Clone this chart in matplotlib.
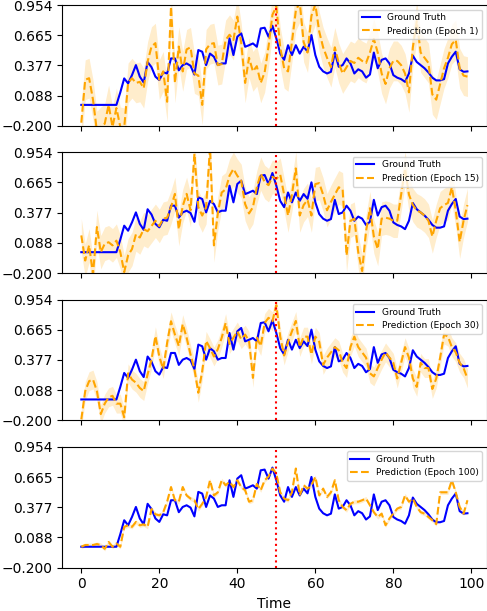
import numpy as np
import matplotlib
matplotlib.use("Agg")
import matplotlib.pyplot as plt

time = list(range(100))

ground_truth = [
    0.0, 0.0, 0.0, 0.0, 0.0, 0.0, 0.0, 0.0, 0.0, 0.0,
    0.12, 0.253, 0.205, 0.285, 0.38, 0.27, 0.214, 0.41, 0.36, 0.27,
    0.237, 0.31, 0.30, 0.444, 0.444, 0.33, 0.38, 0.396, 0.374, 0.29,
    0.524, 0.508, 0.38, 0.49, 0.46, 0.38, 0.396, 0.396, 0.635, 0.476,
    0.651, 0.683, 0.555, 0.57, 0.587, 0.555, 0.73, 0.737, 0.651, 0.756,
    0.635, 0.49, 0.43, 0.57, 0.476, 0.57, 0.49, 0.555, 0.51, 0.667,
    0.476, 0.364, 0.32, 0.30, 0.316, 0.50, 0.364, 0.38, 0.444, 0.396,
    0.30, 0.34, 0.32, 0.26, 0.29, 0.50, 0.35, 0.43, 0.444, 0.396,
    0.284, 0.26, 0.246, 0.22, 0.30, 0.47, 0.41, 0.38, 0.35, 0.31,
    0.26, 0.234, 0.234, 0.246, 0.396, 0.46, 0.508, 0.34, 0.316, 0.32,
]

pred_epoch1 = [
    -0.17, 0.24, 0.255, 0.05, -0.25, -0.21, -0.18, 0.0, -0.21, -0.03,
    -0.21, -0.22, 0.21, 0.255, 0.21, 0.22, 0.16, 0.414, 0.557, 0.59,
    0.24, 0.32, 0.03, 0.94, 0.21, 0.557, 0.32, 0.53, 0.55, 0.30,
    0.28, 0.0, 0.53, 0.58, 0.59, 0.38, 0.39, 0.62, 0.67, 0.62,
    0.843, 0.59, 0.21, 0.45, 0.32, 0.37, 0.21, 0.31, 0.557, 0.86,
    0.94, 0.55, 0.35, 0.32, 0.6, 0.9, 0.98, 0.6, 0.5, 0.85,
    0.96, 0.7, 0.55, 0.45, 0.36, 0.55, 0.4, 0.3, 0.36, 0.42,
    0.4, 0.45, 0.42, 0.4, 0.5, 0.63, 0.5, 0.3, 0.2, 0.35,
    0.42, 0.42, 0.38, 0.3, 0.12, 0.55, 0.8, 0.5, 0.45, 0.4,
    0.1, 0.05, 0.2, 0.35, 0.45, 0.58, 0.62, 0.35, 0.28, 0.27,
]

pred_epoch15 = [
    0.16, -0.08, 0.065, -0.21, 0.24, 0.0, 0.08, 0.095, 0.065, 0.11,
    0.0, -0.19, -0.03, 0.03, 0.17, 0.14, 0.22, 0.2, 0.25, 0.3,
    0.25, 0.32, 0.33, 0.43, 0.557, 0.22, 0.44, 0.557, 0.4, 0.94,
    0.43, 0.35, 0.43, 1.0, 0.065, 0.37, 0.57, 0.6, 0.73, 0.795,
    0.73, 0.68, 0.46, 0.37, 0.43, 0.62, 0.75, 0.67, 0.64, 0.72,
    0.7, 0.74, 0.55, 0.35, 0.55, 0.8, 0.35, 0.45, 0.5, 0.35,
    0.65, 0.66, 0.55, 0.4, 0.48, 0.55, 0.62, 0.6, -0.03, 0.3,
    0.32, 0.0, -0.18, 0.2, 0.42, 0.15, 0.03, 0.32, 0.33, 0.32,
    0.3, 0.3, 0.55, 0.8, 0.55, 0.45, 0.4, 0.38, 0.35, 0.3,
    0.15, 0.3, 0.42, 0.45, 0.47, 0.62, 0.4, 0.1, 0.3, 0.45,
]

pred_epoch30 = [
    -0.19, 0.08, 0.175, 0.19, 0.08, -0.14, -0.04, 0.02, 0.035, -0.04,
    -0.04, -0.17, 0.25, 0.19, 0.16, 0.11, 0.08, 0.24, 0.38, 0.605,
    0.41, 0.29, 0.54, 0.747, 0.62, 0.51, 0.72, 0.59, 0.43, 0.29,
    0.064, 0.27, 0.56, 0.49, 0.41, 0.48, 0.59, 0.73, 0.53, 0.59,
    0.65, 0.575, 0.62, 0.56, 0.206, 0.59, 0.51, 0.73, 0.78, 0.747,
    0.9, 0.6, 0.42, 0.55, 0.65, 0.75, 0.5, 0.6, 0.6, 0.43,
    0.6, 0.55, 0.33, 0.4, 0.45, 0.5, 0.47, 0.35, 0.3, 0.5,
    0.6, 0.5, 0.45, 0.4, 0.25, 0.22, 0.3, 0.38, 0.45, 0.4,
    0.35, 0.2, 0.35, 0.5, 0.4, 0.2, 0.12, 0.35, 0.3, 0.3,
    0.1, 0.2, 0.4, 0.62, 0.6, 0.5, 0.45, 0.35, 0.3, 0.2,
]

pred_epoch100 = [
    0.0, 0.016, 0.016, 0.016, 0.026, 0.016, -0.02, 0.045, 0.0, 0.03,
    0.0, 0.19, 0.205, 0.19, 0.237, 0.205, 0.214, 0.19, 0.36, 0.31,
    0.30, 0.33, 0.43, 0.57, 0.444, 0.43, 0.57, 0.49, 0.46, 0.444,
    0.36, 0.41, 0.476, 0.635, 0.49, 0.52, 0.635, 0.587, 0.62, 0.57,
    0.635, 0.57, 0.54, 0.43, 0.444, 0.60, 0.54, 0.635, 0.67, 0.746,
    0.70, 0.52, 0.46, 0.445, 0.52, 0.747, 0.49, 0.587, 0.555, 0.587,
    0.667, 0.49, 0.555, 0.476, 0.52, 0.635, 0.444, 0.38, 0.35, 0.41,
    0.43, 0.43, 0.444, 0.46, 0.396, 0.33, 0.284, 0.316, 0.205, 0.27,
    0.316, 0.364, 0.38, 0.49, 0.43, 0.46, 0.38, 0.33, 0.316, 0.284,
    0.254, 0.216, 0.52, 0.52, 0.52, 0.635, 0.52, 0.38, 0.316, 0.444,
]

predictions = [pred_epoch1, pred_epoch15, pred_epoch30, pred_epoch100]
epochs = [1, 15, 30, 100]
band_halfwidth = [0.19, 0.16, 0.09, 0.02]

ytick_values = [-0.200, 0.0885, 0.377, 0.6655, 0.954]
ytick_labels = ["\u22120.200", "0.088", "0.377", "0.665", "0.954"]
xtick_values = [0, 20, 40, 60, 80, 100]
split_time = 50

fig, axes = plt.subplots(4, 1, figsize=(4.87, 6.11), dpi=100, sharex=True)
fig.subplots_adjust(left=0.1273, right=0.9995, top=0.9918, bottom=0.0709, hspace=0.219)

t = np.array(time)
gt = np.array(ground_truth)
for ax, pred, ep, hw in zip(axes, predictions, epochs, band_halfwidth):
    p = np.array(pred)
    ax.plot(t, gt, color="blue", linewidth=1.5, label="Ground Truth")
    ax.plot(t, p, color="orange", linestyle="--", linewidth=1.5,
            label=f"Prediction (Epoch {ep})")
    ax.fill_between(t, p - hw, p + hw, color="orange", alpha=0.2, linewidth=0)
    ax.axvline(split_time, color="red", linestyle=":", linewidth=1.5)
    ax.set_ylim(ytick_values[0], ytick_values[-1])
    ax.set_yticks(ytick_values)
    ax.set_yticklabels(ytick_labels)
    ax.set_xlim(-4.95, 103.95)
    ax.legend(loc="upper right", fontsize=6.5)
    ax.tick_params(labelsize=10)

axes[-1].set_xticks(xtick_values)
axes[-1].set_xlabel("Time", fontsize=10)

fig.savefig("out.png", dpi=100)
